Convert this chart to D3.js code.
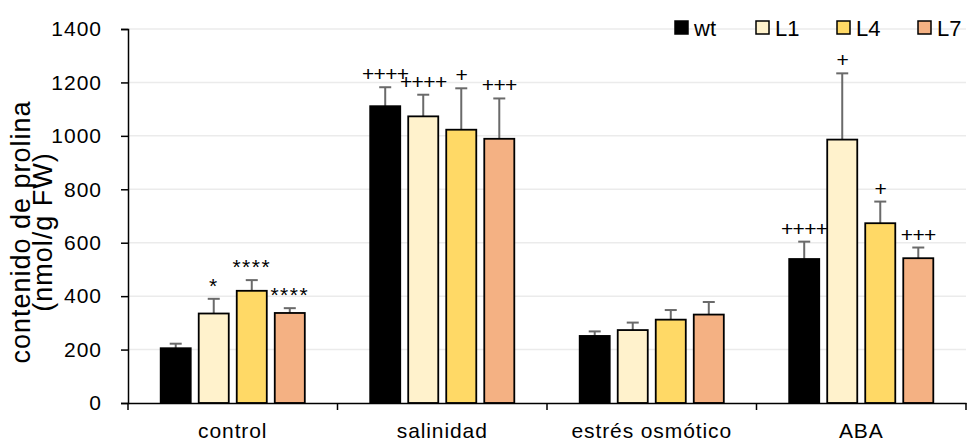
<!DOCTYPE html>
<html>
<head>
<meta charset="utf-8">
<script src="https://cdn.jsdelivr.net/npm/d3@7"></script>
<style>
  html, body { margin: 0; padding: 0; background: #fff; }
  svg text { font-family: "Liberation Sans", Arial, sans-serif; fill: #000; }
</style>
</head>
<body>
<svg id="chart" width="968" height="443"></svg>
<script>
// categories and series
const categories = ['control', 'salinidad', 'estrés osmótico', 'ABA'];
const seriesNames = ['wt', 'L1', 'L4', 'L7'];
const seriesColors = ['#000000', '#FFF2CC', '#FFD966', '#F4B183'];

// mean values (nmol/g FW)
const wt = [205, 1111, 251, 539];
const L1 = [335, 1073, 273, 986];
const L4 = [420, 1023, 312, 673];
const L7 = [337, 989, 331, 542];

// error bars (upper)
const wtErr = [17, 71, 17, 65];
const L1Err = [55, 81, 28, 248];
const L4Err = [40, 155, 36, 81];
const L7Err = [18, 151, 47, 40];

// significance marks
const wtSig = ['', '++++', '', '++++'];
const L1Sig = ['*', '++++', '', '+'];
const L4Sig = ['****', '+', '', '+'];
const L7Sig = ['****', '+++', '', '+++'];

const yTicks = [0, 200, 400, 600, 800, 1000, 1200, 1400];

const values = [wt, L1, L4, L7];
const errors = [wtErr, L1Err, L4Err, L7Err];
const sigs = [wtSig, L1Sig, L4Sig, L7Sig];

const svg = d3.select('#chart');
const margin = { top: 29, right: 2, bottom: 40, left: 128 };
const width = 968, height = 443;
const innerW = width - margin.left - margin.right;
const innerH = height - margin.top - margin.bottom;

const g = svg.append('g').attr('transform', `translate(${margin.left},${margin.top})`);

// scales
const x0 = d3.scaleBand().domain(categories).range([0, innerW]).padding(0);
const x1 = d3.scaleBand().domain(seriesNames).range([0, x0.bandwidth()])
  .paddingInner(0.21).paddingOuter(0.86);
const y = d3.scaleLinear().domain([0, 1400]).range([innerH, 0]);

// gridlines
g.append('g')
  .selectAll('line')
  .data(yTicks.filter(d => d > 0))
  .enter().append('line')
  .attr('x1', 0).attr('x2', innerW)
  .attr('y1', d => y(d)).attr('y2', d => y(d))
  .attr('stroke', '#ebebeb').attr('stroke-width', 1.5);

// rows of bars
const rows = [];
categories.forEach((c, ci) => {
  seriesNames.forEach((s, si) => {
    rows.push({ cat: c, series: s, si, value: values[si][ci], err: errors[si][ci], sig: sigs[si][ci] });
  });
});

const cx = d => x0(d.cat) + x1(d.series) + x1.bandwidth() / 2;

// error bars (drawn under the bars)
const eb = g.append('g');
eb.selectAll('.err')
  .data(rows)
  .enter().append('line')
  .attr('x1', cx).attr('x2', cx)
  .attr('y1', d => y(d.value))
  .attr('y2', d => y(d.value + d.err))
  .attr('stroke', '#6a6a6a').attr('stroke-width', 2);
eb.selectAll('.cap')
  .data(rows)
  .enter().append('line')
  .attr('x1', d => cx(d) - 6)
  .attr('x2', d => cx(d) + 6)
  .attr('y1', d => y(d.value + d.err))
  .attr('y2', d => y(d.value + d.err))
  .attr('stroke', '#6a6a6a').attr('stroke-width', 2);

// bars
g.append('g')
  .selectAll('rect')
  .data(rows)
  .enter().append('rect')
  .attr('x', d => x0(d.cat) + x1(d.series))
  .attr('y', d => y(d.value))
  .attr('width', x1.bandwidth())
  .attr('height', d => innerH - y(d.value))
  .attr('fill', d => seriesColors[d.si])
  .attr('stroke', '#000').attr('stroke-width', 1.8);

// significance labels
g.append('g')
  .selectAll('text')
  .data(rows.filter(d => d.sig))
  .enter().append('text')
  .attr('x', cx)
  .attr('y', d => y(d.value + d.err) - 6)
  .attr('text-anchor', 'middle')
  .style('font-size', '21px')
  .style('letter-spacing', d => d.sig.includes('*') ? '1.5px' : '-0.6px')
  .text(d => d.sig);

// y axis
const yAxis = g.append('g')
  .call(d3.axisLeft(y).tickValues(yTicks).tickFormat(d3.format('d')).tickSize(7).tickPadding(19));
yAxis.select('.domain').attr('stroke', '#000').attr('stroke-width', 1.5);
yAxis.selectAll('.tick line').attr('stroke', '#000').attr('stroke-width', 1.5);
yAxis.selectAll('text').style('font-size', '21px').style('letter-spacing', '1px');

// x axis: labels centered, ticks at category boundaries
const xAxis = g.append('g')
  .attr('transform', `translate(0,${innerH})`)
  .call(d3.axisBottom(x0).tickSize(0).tickPadding(20));
xAxis.select('.domain').attr('stroke', '#000').attr('stroke-width', 1.5);
xAxis.selectAll('text').style('font-size', '21px').style('letter-spacing', '0.9px');

const bounds = categories.map(c => x0(c)).concat([innerW]);
xAxis.selectAll('.bound')
  .data(bounds)
  .enter().append('line')
  .attr('x1', d => d).attr('x2', d => d)
  .attr('y1', 0).attr('y2', 7)
  .attr('stroke', '#000').attr('stroke-width', 1.5);

// y axis title
const yTitle = svg.append('text')
  .attr('transform', `translate(30,${margin.top + innerH / 2 + 16}) rotate(-90)`)
  .attr('text-anchor', 'middle')
  .style('font-size', '27px')
  .style('letter-spacing', '1px');
yTitle.append('tspan').attr('x', 0).attr('y', 0).text('contenido de prolina');
yTitle.append('tspan').attr('x', 0).attr('y', 22).text('(nmol/g FW)');

// legend
const legend = svg.append('g');
const legendX = d3.scalePoint().domain(seriesNames).range([675, 918]);
const li = legend.selectAll('g')
  .data(seriesNames)
  .enter().append('g')
  .attr('transform', d => `translate(${legendX(d)},21)`);
li.append('rect')
  .attr('width', 13).attr('height', 13)
  .attr('fill', (d, i) => seriesColors[i])
  .attr('stroke', '#000').attr('stroke-width', 1.5);
li.append('text')
  .attr('x', 19).attr('y', 14.5)
  .style('font-size', '22px')
  .text(d => d);
</script>
</body>
</html>
